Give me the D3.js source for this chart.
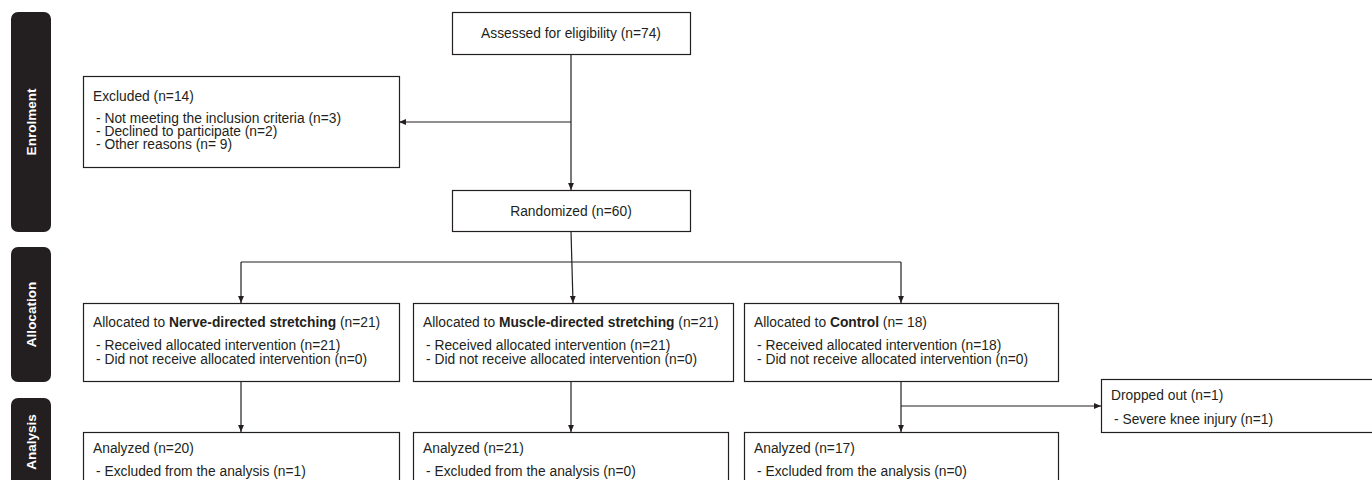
<!DOCTYPE html>
<html><head><meta charset="utf-8">
<script src="https://cdn.jsdelivr.net/npm/d3@7"></script>
<style>
body{margin:0;background:#fff}
svg{display:block}
text{font-family:"Liberation Sans",Arial,Helvetica,sans-serif;font-size:13.8px;fill:#231f20}
</style>
</head><body>
<svg id="chart" width="1372" height="480"></svg>
<script>
// ---------- data ----------
const stages = ["Enrolment", "Allocation", "Analysis"];
const assessedN = "74";
const excludedN = "14";
const excludedReasons = ["Not meeting the inclusion criteria", "Declined to participate", "Other reasons"];
const excludedReasonN = ["3", "2", " 9"];
const randomizedN = "60";
const groups = ["Nerve-directed stretching", "Muscle-directed stretching", "Control"];
const allocatedN = ["21", "21", " 18"];
const receivedN = ["21", "21", "18"];
const notReceivedN = ["0", "0", "0"];
const analyzedN = ["20", "21", "17"];
const excludedAnalysisN = ["1", "0", "0"];
const droppedN = "1";
const droppedReasons = ["Severe knee injury"];
const droppedReasonN = ["1"];

// ---------- layout ----------
const ink = "#231f20";
const svg = d3.select("#chart");

const stageY = d3.scaleOrdinal().domain(stages).range([[12, 232], [247, 382], [398, 486]]);
const colX = d3.scalePoint().domain(groups).range([241, 901]);
const allocBoxX = d3.scaleOrdinal().domain(groups).range([[83, 399], [413, 733], [744, 1058]]);
const analBoxX = d3.scaleOrdinal().domain(groups).range([[83, 399], [413, 728], [744, 1058]]);
const topX = 571;

// arrow marker
svg.append("defs").append("marker")
  .attr("id", "arr").attr("viewBox", "0 0 10 10").attr("refX", 10).attr("refY", 5)
  .attr("markerWidth", 7).attr("markerHeight", 7).attr("markerUnits", "userSpaceOnUse")
  .attr("orient", "auto")
  .append("path").attr("d", "M0,0.8L10,5L0,9.2Z").attr("fill", ink);

// stage bars
const sb = svg.append("g");
stages.forEach(s => {
  const [y0, y1] = stageY(s);
  sb.append("rect").attr("x", 11).attr("y", y0).attr("width", 40).attr("height", y1 - y0)
    .attr("rx", 7).attr("fill", ink);
  sb.append("text").attr("transform", `translate(31,${(y0 + y1) / 2}) rotate(-90)`)
    .attr("text-anchor", "middle").attr("dy", "0.35em")
    .style("fill", "#fff").style("font-weight", "bold").style("font-size", "13.5px").text(s);
});

function box(x0, y0, x1, y1) {
  svg.append("rect").attr("x", x0 + 0.5).attr("y", y0 + 0.5).attr("width", x1 - x0).attr("height", y1 - y0)
    .attr("fill", "#fff").attr("stroke", ink).attr("stroke-width", 1.2);
}
function line(x, y, parts, anchor) {
  const t = svg.append("text").attr("x", x).attr("y", y).attr("dy", "0.35em")
    .attr("text-anchor", anchor || "start");
  parts.forEach(p => t.append("tspan").style("font-weight", p.b ? "bold" : null).text(p.t));
}
function link(pts, arrow) {
  svg.append("path").attr("d", d3.line()(pts)).attr("fill", "none")
    .attr("stroke", ink).attr("stroke-width", 1.2)
    .attr("marker-end", arrow ? "url(#arr)" : null);
}

// connectors
link([[topX, 54], [topX, 190]], true);
link([[topX, 122], [399, 122]], true);
link([[topX, 231], [(allocBoxX(groups[1])[0] + allocBoxX(groups[1])[1]) / 2, 303]], true);
link([[colX(groups[0]), 262], [colX(groups[2]), 262]], false);
link([[colX(groups[0]), 262], [colX(groups[0]), 303]], true);
link([[colX(groups[2]), 262], [colX(groups[2]), 303]], true);
groups.forEach(g => link([[colX(g), 381], [colX(g), 432]], true));
link([[colX(groups[2]), 406], [1101, 406]], true);

// Enrolment boxes
box(452, 12, 690, 54);
line(topX, 33, [{t: `Assessed for eligibility (n=${assessedN})`}], "middle");

box(83, 76, 399, 167);
line(93, 96, [{t: `Excluded (n=${excludedN})`}]);
excludedReasons.forEach((r, i) => line(96, 118 + i * 13, [{t: `- ${r} (n=${excludedReasonN[i]})`}]));

box(452, 190, 690, 231);
line(topX, 211, [{t: `Randomized (n=${randomizedN})`}], "middle");

// Allocation boxes
groups.forEach((g, i) => {
  const [x0, x1] = allocBoxX(g);
  box(x0, 303, x1, 381);
  line(x0 + 10, 322, [{t: "Allocated to "}, {t: g, b: true}, {t: ` (n=${allocatedN[i]})`}]);
  line(x0 + 13, 345, [{t: `- Received allocated intervention (n=${receivedN[i]})`}]);
  line(x0 + 13, 359, [{t: `- Did not receive allocated intervention (n=${notReceivedN[i]})`}]);
});

// Dropped out
box(1101, 379, 1400, 432);
line(1111, 395, [{t: `Dropped out (n=${droppedN})`}]);
droppedReasons.forEach((r, i) => line(1114, 419 + i * 15, [{t: `- ${r} (n=${droppedReasonN[i]})`}]));

// Analysis boxes
groups.forEach((g, i) => {
  const [x0, x1] = analBoxX(g);
  box(x0, 432, x1, 520);
  line(x0 + 10, 448, [{t: `Analyzed (n=${analyzedN[i]})`}]);
  line(x0 + 13, 471, [{t: `- Excluded from the analysis (n=${excludedAnalysisN[i]})`}]);
});
</script>
</body></html>
